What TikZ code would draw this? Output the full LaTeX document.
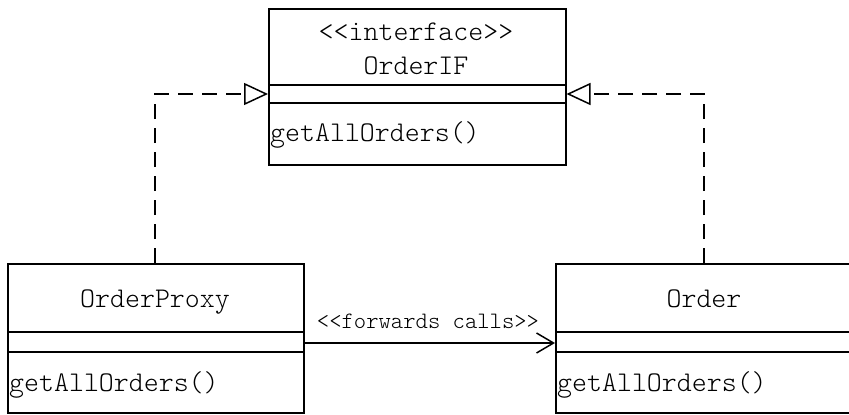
\documentclass[tikz,border=0pt]{standalone}
\usepackage{fontspec}
\setmonofont{lmmonolt10-regular}[Extension=.otf]
\usetikzlibrary{arrows.meta}
\begin{document}
\begin{tikzpicture}[x=1pt,y=-1pt,
  cls/.style={draw, line width=1.5pt, anchor=north west, inner sep=0pt},
  txt/.style={inner sep=0pt, anchor=base, font=\ttfamily\fontsize{28.5}{32}\selectfont},
  lbl/.style={inner sep=0pt, font=\ttfamily\fontsize{23.5}{26}\selectfont},
  divider/.style={line width=1.5pt},
  realize/.style={line width=1.5pt, dash pattern=on 15pt off 9pt,
    -{Triangle[open, length=24pt, width=22pt, line width=1.5pt, fill=white]}},
  fwd/.style={line width=1.5pt, -{Straight Barb[length=17pt, width=20pt, line width=1.5pt]}}
]
\useasboundingbox (0,0) rectangle (849,415);
\clip (0,0) rectangle (849,415);

% OrderIF
\node[cls, minimum width=297pt, minimum height=156pt] (iface) at (268,8) {};
\draw[divider] ([yshift=-77pt]iface.north west) -- ([yshift=-77pt]iface.north east);
\draw[divider] ([yshift=-95pt]iface.north west) -- ([yshift=-95pt]iface.north east);
\node[txt] (ifstereo) at (416,40) {<{}<interface>{}>};
\node[txt] (ifname) at (416,74) {OrderIF};
\node[txt, anchor=base west] (ifop) at (270,141) {getAllOrders()};
\coordinate (iw) at ([yshift=-86pt]iface.north west);
\coordinate (ie) at ([yshift=-86pt]iface.north east);

% OrderProxy
\node[cls, minimum width=296pt, minimum height=149pt] (proxy) at (7,263) {};
\draw[divider] ([yshift=-69pt]proxy.north west) -- ([yshift=-69pt]proxy.north east);
\draw[divider] ([yshift=-89pt]proxy.north west) -- ([yshift=-89pt]proxy.north east);
\node[txt] (pname) at (155,307) {OrderProxy};
\node[txt, anchor=base west] (pop) at (9,391) {getAllOrders()};

% Order
\node[cls, minimum width=303pt, minimum height=149pt] (order) at (555,263) {};
\draw[divider] ([yshift=-69pt]order.north west) -- ([yshift=-69pt]order.north east);
\draw[divider] ([yshift=-89pt]order.north west) -- ([yshift=-89pt]order.north east);
\node[txt] (oname) at (704,307) {Order};
\node[txt, anchor=base west] (oop) at (557,391) {getAllOrders()};

% realizations
\draw[realize] (155,263) |- (iw);
\draw[realize] (704,263) |- (ie);

% forwarding association
\coordinate (ps) at ([yshift=-80pt]proxy.north east);
\coordinate (ot) at ([yshift=-80pt]order.north west);
\draw[fwd] (ps) -- (ot);
\node[lbl, anchor=base] (fl) at (428,328) {<{}<forwards calls>{}>};
\end{tikzpicture}
\end{document}
